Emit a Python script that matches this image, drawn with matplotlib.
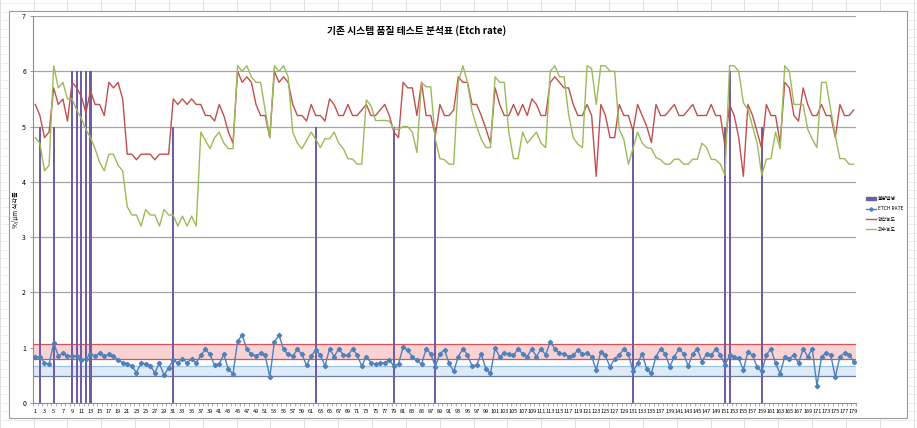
import numpy as np
import matplotlib
matplotlib.use("Agg")
import matplotlib.pyplot as plt
from matplotlib.lines import Line2D
from matplotlib.patches import Patch, Rectangle

plt.rcParams["font.family"] = ["Noto Sans CJK KR", "DejaVu Sans"]

# 측정 번호 1..179
points = np.arange(1, 180)

# ETCH RATE
etch_rate = [
    0.83, 0.83, 0.73, 0.70, 1.09, 0.85, 0.90, 0.85, 0.85, 0.85,
    0.78, 0.80, 0.88, 0.85, 0.90, 0.85, 0.88, 0.85, 0.78, 0.73,
    0.71, 0.67, 0.55, 0.72, 0.71, 0.67, 0.55, 0.72, 0.50, 0.64,
    0.77, 0.73, 0.80, 0.73, 0.80, 0.73, 0.86, 0.97, 0.88, 0.68,
    0.71, 0.88, 0.61, 0.53, 1.12, 1.23, 0.97, 0.88, 0.85, 0.90,
    0.86, 0.47, 1.10, 1.23, 0.97, 0.88, 0.85, 0.97, 0.88, 0.68,
    0.85, 0.96, 0.87, 0.67, 0.98, 0.84, 0.98, 0.87, 0.86, 0.98,
    0.87, 0.67, 0.84, 0.73, 0.70, 0.72, 0.73, 0.77, 0.67, 0.71,
    1.01, 0.96, 0.83, 0.77, 0.70, 0.98, 0.89, 0.66, 0.89, 0.96,
    0.72, 0.57, 0.84, 0.98, 0.87, 0.67, 0.69, 0.89, 0.61, 0.54,
    0.99, 0.84, 0.90, 0.89, 0.86, 0.98, 0.89, 0.84, 0.98, 0.84,
    0.98, 0.87, 1.11, 0.98, 0.90, 0.89, 0.84, 0.86, 0.96, 0.89,
    0.90, 0.84, 0.60, 0.93, 0.86, 0.65, 0.80, 0.86, 0.98, 0.89,
    0.57, 0.72, 0.89, 0.61, 0.54, 0.84, 0.98, 0.89, 0.66, 0.84,
    0.98, 0.89, 0.67, 0.89, 0.98, 0.75, 0.89, 0.86, 0.98, 0.87,
    0.69, 0.86, 0.84, 0.81, 0.60, 0.93, 0.86, 0.65, 0.57, 0.87,
    0.98, 0.72, 0.53, 0.84, 0.80, 0.87, 0.72, 0.98, 0.84, 0.98,
    0.31, 0.84, 0.90, 0.87, 0.47, 0.84, 0.90, 0.87, 0.75,
]

# 확산농도
diffusion = [
    5.4, 5.2, 4.8, 4.9, 5.7, 5.4, 5.5, 5.1, 5.8, 5.7,
    5.55, 5.25, 5.65, 5.4, 5.4, 5.2, 5.8, 5.7, 5.8, 5.5,
    4.5, 4.5, 4.4, 4.5, 4.5, 4.5, 4.4, 4.5, 4.5, 4.5,
    5.5, 5.4, 5.5, 5.4, 5.5, 5.4, 5.4, 5.2, 5.2, 5.1,
    5.4, 5.2, 4.9, 4.7, 6.0, 5.8, 5.9, 5.8, 5.4, 5.2,
    5.2, 4.8, 6.0, 5.8, 5.9, 5.8, 5.4, 5.2, 5.2, 5.1,
    5.4, 5.2, 5.2, 5.1, 5.5, 5.4, 5.2, 5.2, 5.4, 5.2,
    5.2, 5.3, 5.4, 5.2, 5.2, 5.3, 5.4, 5.2, 4.9, 4.8,
    5.8, 5.7, 5.7, 5.2, 5.8, 5.2, 5.2, 4.83, 5.4, 5.2,
    5.2, 5.3, 5.9, 5.8, 5.8, 5.4, 5.4, 5.2, 4.96, 4.7,
    5.7, 5.4, 5.2, 5.2, 5.4, 5.2, 5.4, 5.2, 5.5, 5.4,
    5.2, 5.2, 5.8, 5.9, 5.8, 5.7, 5.7, 5.4, 5.2, 5.2,
    5.4, 5.2, 4.1, 5.4, 5.2, 4.8, 4.8, 5.4, 5.2, 5.2,
    4.92, 5.4, 5.2, 5.0, 4.71, 5.4, 5.2, 5.2, 5.3, 5.4,
    5.2, 5.2, 5.3, 5.4, 5.2, 5.2, 5.2, 5.4, 5.2, 5.2,
    4.65, 5.4, 5.2, 4.8, 4.1, 5.4, 5.2, 4.9, 4.6, 5.4,
    5.2, 5.2, 4.7, 5.8, 5.7, 5.2, 5.1, 5.7, 5.4, 5.2,
    5.2, 5.4, 5.2, 5.2, 4.8, 5.4, 5.2, 5.2, 5.3,
]

# 과수농도
peroxide = [
    4.8, 4.7, 4.2, 4.3, 6.1, 5.7, 5.8, 5.5, 5.5, 5.3,
    5.15, 4.95, 4.8, 4.6, 4.35, 4.2, 4.5, 4.5, 4.3, 4.2,
    3.55, 3.4, 3.4, 3.2, 3.5, 3.4, 3.4, 3.2, 3.5, 3.4,
    3.4, 3.2, 3.38, 3.2, 3.38, 3.2, 4.9, 4.75, 4.6, 4.8,
    4.9, 4.7, 4.6, 4.6, 6.1, 6.0, 6.1, 5.9, 5.8, 5.8,
    5.3, 4.8, 6.1, 6.0, 6.1, 5.9, 4.9, 4.7, 4.6, 4.75,
    4.9, 4.77, 4.62, 4.78, 4.78, 4.9, 4.7, 4.6, 4.42, 4.41,
    4.32, 4.32, 5.48, 5.38, 5.11, 5.11, 5.11, 5.1, 4.95, 4.95,
    5.0, 5.0, 4.9, 4.53, 5.8, 5.72, 5.72, 4.77, 4.42, 4.4,
    4.32, 4.32, 5.8, 6.1, 5.8, 5.28, 5.0, 4.77, 4.62, 4.62,
    5.9, 5.8, 5.8, 4.9, 4.42, 4.42, 4.9, 4.7, 4.8, 4.9,
    4.7, 4.62, 6.0, 6.1, 5.9, 5.9, 5.22, 4.8, 4.68, 4.62,
    6.1, 6.05, 5.4, 6.1, 6.1, 6.0, 6.0, 4.95, 4.77, 4.32,
    4.6, 4.9, 4.7, 4.62, 4.6, 4.44, 4.4, 4.32, 4.32, 4.41,
    4.41, 4.32, 4.32, 4.41, 4.41, 4.7, 4.62, 4.41, 4.4, 4.32,
    4.12, 6.1, 6.1, 6.0, 5.43, 5.31, 5.0, 4.7, 4.12, 4.41,
    4.42, 4.9, 4.6, 6.1, 6.0, 5.4, 5.4, 5.4, 4.95, 4.77,
    4.62, 5.8, 5.8, 5.3, 4.83, 4.42, 4.42, 4.32, 4.32,
]

# 불량발생 (번호, 높이)
defect_points = [2, 5, 9, 10, 11, 12, 13, 31, 62, 79, 88, 131, 151, 152, 159]
defect_heights = [5, 5, 6, 6, 6, 6, 6, 5, 5, 5, 5, 5, 5, 6, 5]

# 관리 구간
upper_band = (0.79, 1.07)
lower_band = (0.49, 0.67)

W, H = 917, 428
fig = plt.figure(figsize=(W / 100, H / 100), dpi=100)
fig.patch.set_facecolor("white")

# 엑셀 시트 격자 (배경)
for x in np.arange(33.5 - 33.85, W, 33.85):
    fig.add_artist(Line2D([x / W, x / W], [0, 1], color="#dadada", lw=0.6,
                          transform=fig.transFigure, zorder=-3))
for y in np.arange(0, H, 8.5):
    fig.add_artist(Line2D([0, 1], [y / H, y / H], color="#e6e6e6", lw=0.5,
                          transform=fig.transFigure, zorder=-3))
fig.add_artist(Rectangle((9 / W, 10 / H), 898 / W, 407 / H,
                         transform=fig.transFigure, facecolor="white",
                         edgecolor="#9a9a9a", lw=0.8, zorder=-2))

ax = fig.add_axes([33 / W, 25 / H, 823 / W, 387 / H])
ax.set_facecolor("white")
ax.set_xlim(0.5, 179.5)
ax.set_ylim(0, 7)

for v in range(1, 8):
    ax.axhline(v, color="#a6a6a6", lw=0.9, zorder=1)

ax.axhspan(*upper_band, color="#f9d3d3", lw=0, zorder=1.5)
ax.axhspan(*lower_band, color="#deeaf6", lw=0, zorder=1.5)
ax.axhline(upper_band[1], color="#d9535b", lw=0.9, zorder=1.6)
ax.axhline(upper_band[0], color="#d9535b", lw=0.9, zorder=1.6)
ax.axhline(lower_band[1], color="#9dc3e6", lw=0.9, zorder=1.6)
ax.axhline(lower_band[0], color="#6a7fa8", lw=0.9, zorder=1.6)

ax.bar(defect_points, defect_heights, width=0.45, color="#6f5ea6", zorder=2)
ax.plot(points, diffusion, color="#c0504d", lw=1.0, zorder=3)
ax.plot(points, peroxide, color="#9bbb59", lw=1.0, zorder=3)
ax.plot(points, etch_rate, color="#4f81bd", lw=1.0, marker="D", ms=2.2,
        zorder=4)

for s in ["top", "right"]:
    ax.spines[s].set_visible(False)
for s in ["left", "bottom"]:
    ax.spines[s].set_color("#8c8c8c")
    ax.spines[s].set_linewidth(0.8)

ax.set_yticks(range(0, 8))
ax.tick_params(axis="y", labelsize=5, length=2, width=0.6, color="#8c8c8c",
               pad=3)
ax.set_xticks(np.arange(0.5, 180, 1))
ax.set_xticklabels([])
ax.tick_params(axis="x", which="major", length=2.2, width=0.5,
               color="#8c8c8c")
ax.set_xticks(points[::2], minor=True)
ax.set_xticklabels([str(p) for p in points[::2]], minor=True)
ax.tick_params(axis="x", which="minor", length=0, labelsize=4, pad=4)

ax.set_ylabel("%/μm 식각률", fontsize=4.5)
ax.yaxis.set_label_coords(-13 / 823, 0.5)

fig.text(417 / W, 1 - 31 / H, "기존 시스템 품질 테스트 분석표 (Etch rate)",
         ha="center", va="center", fontsize=7, fontweight="bold")

handles = [
    Patch(color="#6f5ea6"),
    Line2D([], [], color="#4f81bd", lw=1.0, marker="D", ms=1.8),
    Line2D([], [], color="#c0504d", lw=1.0),
    Line2D([], [], color="#9bbb59", lw=1.0),
]
labels = ["불량발생", "ETCH RATE", "확산농도", "과수농도"]
ax.legend(handles, labels, loc="center left",
          bbox_to_anchor=(866 / W, 1 - 214 / H), bbox_transform=fig.transFigure,
          frameon=False, fontsize=3.5, handlelength=2.0, labelspacing=1.1,
          handletextpad=0.5, borderpad=0, borderaxespad=0)

fig.savefig("out.png", dpi=100)
